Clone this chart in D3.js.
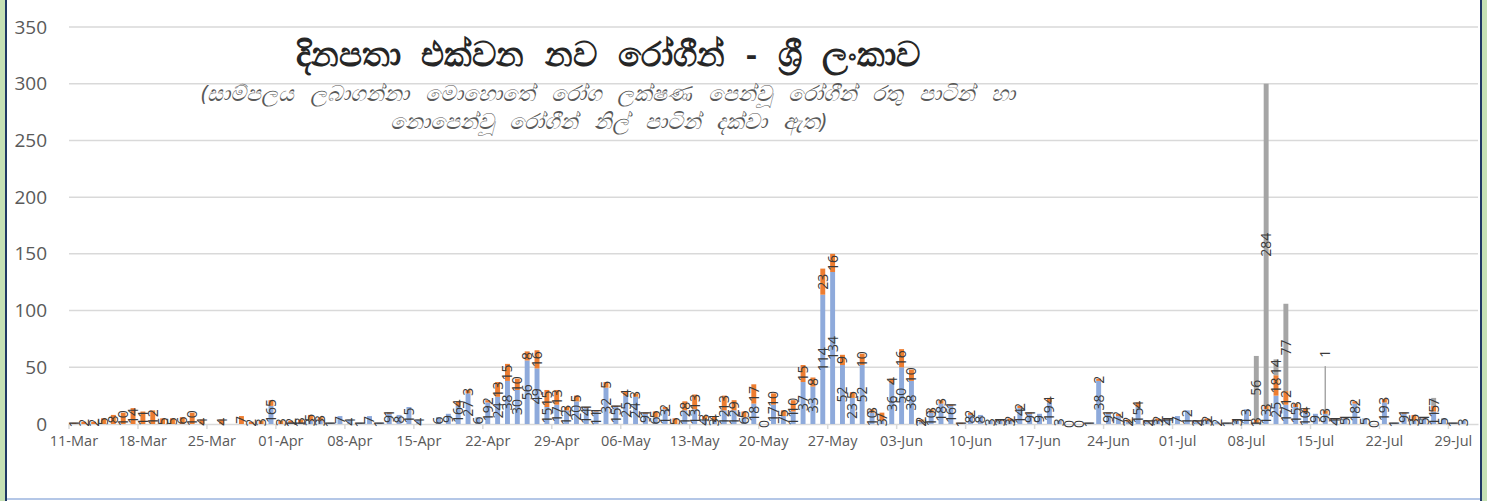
<!DOCTYPE html>
<html>
<head>
<meta charset="utf-8">
<script src="https://cdn.jsdelivr.net/npm/d3@7"></script>
<style>
  html, body { margin: 0; padding: 0; background: #fff; }
  svg { display: block; font-family: "Noto Sans", "Open Sans", sans-serif; }
</style>
</head>
<body>
<svg id="chart" width="1487" height="501"></svg>
<script>
// first and last day on the axis
const firstDay = '2020-03-11';
const lastDay = '2020-07-31';
const tickEvery = 7;

// patients without symptoms (blue), null = no bar / no label
const blueMar = [null, null, null, null, null, null, null, null, null, null, null, null, null, null, null, null, null, null, null, null, 16];
const blueApr = [null, 1, 1, 3, 3, 1, 7, 4, 1, 7, 1, 9, 8, 15, 4, null, 6, 9, 16, 27, 6, 19, 24, 38, 30, 56, 49, 15, 17, 12];
const blueMay = [20, 14, 11, 32, 15, 25, 24, 9, 6, 13, null, 12, 13, 4, 3, 12, 12, 6, 18, 0, 17, 7, 11, 37, 33, 114, 134, 52, 23, 52, 10];
const blueJun = [3, 36, 50, 38, 2, 10, 18, 16, null, 8, 8, 3, 3, 3, 14, 9, 9, 19, 3, 0, 0, 1, 38, 9, 7, 2, 15, 2, 3, 4];
const blueJul = [7, 12, 2, 3, 2, 1, 3, 13, 1, 13, 25, 17, 15, 10, 9, 9, 4, 5, 18, 5, 0, 19, 1, 9, 3, 5, 11, 5, 1, 3, null];

// patients with symptoms (orange)
const orangeMar = [1, 2, 2, 5, 8, 10, 14, 11, 12, 5, 5, 6, 10, 4, null, 4, null, 7, 2, 3, 5];
const orangeApr = [3, 2, 3, 5, 3, null, null, null, null, null, null, 1, null, null, null, null, null, null, 4, 3, null, 2, 13, 15, 10, 8, 16, 15, 13, 3];
const orangeMay = [5, 1, 1, 5, 1, 4, 3, 1, 5, 2, 5, 8, 13, 3, 4, 13, 9, 5, 17, null, 10, 5, 10, 15, 8, 23, 16, 9, 5, 10, 3];
const orangeJun = [7, 4, 16, 10, 2, 3, 3, 1, 1, 2, null, null, 1, 2, 2, 1, null, 4, null, null, null, null, 2, 1, 2, 2, 4, 1, 2, 1];
const orangeJul = [null, null, 1, 2, null, null, 1, null, 3, 3, 18, 12, 3, 4, null, 3, 1, 1, 2, null, null, 3, null, 1, 5, 1, 5, null, null, null, null];

// other (grey) - only in July
const grayJul = [null, null, null, null, null, null, null, null, 56, 284, 14, 77, null, null, null, 1, null, null, null, null, null, null, null, null, null, null, 7, null, null, null, null];
const grayBefore = blueMar.length + blueApr.length + blueMay.length + blueJun.length;

// labels that were dragged up in the original, with a leader line
const liftedLabels = [{ date: '2020-07-16', key: 'gray', to: 62 }];

const yTicks = [0, 50, 100, 150, 200, 250, 300, 350];

const titleText = 'දිනපතා එක්වන නව රෝගීන් - ශ්‍රී ලංකාව';
const subtitleLines = [
    '(සාම්පලය ලබාගන්නා මොහොතේ රෝග ලක්ෂණ පෙන්වූ රෝගීන් රතු පාටින් හා',
    'නොපෙන්වූ රෝගීන් නිල් පාටින් දක්වා ඇත)'
];

const colors = { blue: '#8eaadb', orange: '#ed7d31', gray: '#a5a5a5' };
const keys = ['blue', 'orange', 'gray'];

const parse = d3.timeParse('%Y-%m-%d');
const days = d3.timeDay.range(parse(firstDay), d3.timeDay.offset(parse(lastDay), 1));

const blue = [].concat(blueMar, blueApr, blueMay, blueJun, blueJul);
const orange = [].concat(orangeMar, orangeApr, orangeMay, orangeJun, orangeJul);

const rows = days.map((d, i) => ({
    date: d,
    blue: blue[i],
    orange: orange[i],
    gray: i >= grayBefore ? grayJul[i - grayBefore] : null
}));

const svg = d3.select('#chart');
const margin = { left: 69, right: 1478, top: 27, bottom: 424 };

// frame like the slide it was cut from
svg.append('rect').attr('x', 0).attr('y', 0).attr('width', 5).attr('height', 501).attr('fill', '#c5e0b4');
svg.append('rect').attr('x', 5).attr('y', 0).attr('width', 2).attr('height', 501).attr('fill', '#1f3864');
svg.append('rect').attr('x', 1480).attr('y', 0).attr('width', 2).attr('height', 501).attr('fill', '#1f3864');
svg.append('rect').attr('x', 1482).attr('y', 0).attr('width', 5).attr('height', 501).attr('fill', '#c5e0b4');
svg.append('rect').attr('x', 7).attr('y', 498).attr('width', 1473).attr('height', 2).attr('fill', '#b4c7e7');

const x = d3.scaleBand()
    .domain(days)
    .range([margin.left, margin.right])
    .paddingInner(0.5)
    .paddingOuter(0.25);

const y = d3.scaleLinear().domain([0, 350]).range([margin.bottom, margin.top]);

// gridlines
svg.append('g')
    .selectAll('line')
    .data(yTicks.slice(1))
    .enter()
    .append('line')
    .attr('x1', margin.left)
    .attr('x2', margin.right)
    .attr('y1', d => y(d))
    .attr('y2', d => y(d))
    .attr('stroke', '#d9d9d9')
    .attr('stroke-width', 1.5);

// y axis labels
const yAxis = svg.append('g')
    .attr('transform', `translate(${margin.left - 22},0)`)
    .call(d3.axisLeft(y).tickValues(yTicks).tickSize(0).tickPadding(0));
yAxis.select('.domain').remove();
yAxis.selectAll('text')
    .attr('fill', '#595959')
    .style('font-size', '19px')
    .style('font-family', '"Open Sans", sans-serif');

// x axis
const weekDays = days.filter((d, i) => i % tickEvery === 0);
const half = x.step() / 2;
const xAxis = svg.append('g')
    .attr('transform', `translate(0,${margin.bottom})`)
    .call(d3.axisBottom(x).tickValues(weekDays).tickFormat(d3.timeFormat('%d-%b')).tickSize(0).tickPadding(12));
xAxis.select('.domain').attr('stroke', '#d9d9d9').attr('stroke-width', 1.5);
xAxis.selectAll('.tick')
    .append('line')
    .attr('x1', -half).attr('x2', -half)
    .attr('y1', 0).attr('y2', 5)
    .attr('stroke', '#d9d9d9')
    .attr('stroke-width', 1.5);
xAxis.selectAll('text')
    .attr('fill', '#595959')
    .style('font-size', '14.5px')
    .style('font-family', '"Open Sans", sans-serif');

// stacked bars
const stack = d3.stack().keys(keys).value((d, k) => d[k] || 0);
const series = stack(rows);

const layers = svg.append('g')
    .selectAll('g')
    .data(series)
    .enter()
    .append('g')
    .attr('fill', s => colors[s.key]);

layers.selectAll('rect')
    .data(s => s.filter(p => p.data[s.key]))
    .enter()
    .append('rect')
    .attr('x', p => x(p.data.date))
    .attr('width', x.bandwidth())
    .attr('y', p => y(p[1]))
    .attr('height', p => y(p[0]) - y(p[1]));

// leader lines for labels moved up
const lifted = liftedLabels.map(l => {
    const i = rows.findIndex(r => d3.timeFormat('%Y-%m-%d')(r.date) === l.date);
    const s = series.find(s => s.key === l.key);
    return { i, key: l.key, to: l.to, top: s[i][1] };
});
svg.append('g')
    .selectAll('line')
    .data(lifted)
    .enter()
    .append('line')
    .attr('x1', d => x(days[d.i]) + x.bandwidth() / 2)
    .attr('x2', d => x(days[d.i]) + x.bandwidth() / 2)
    .attr('y1', d => y(d.to - 11))
    .attr('y2', d => y(d.top))
    .attr('stroke', '#a6a6a6')
    .attr('stroke-width', 1.5);

// value labels, rotated
const labelData = [];
series.forEach(s => {
    s.forEach((p, i) => {
        const v = p.data[s.key];
        if (v === null || v === undefined) return;
        const moved = lifted.find(l => l.i === i && l.key === s.key);
        labelData.push({
            v,
            cx: x(p.data.date) + x.bandwidth() / 2,
            cy: moved ? y(moved.to) : y((p[0] + p[1]) / 2)
        });
    });
});

svg.append('g')
    .selectAll('text')
    .data(labelData)
    .enter()
    .append('text')
    .attr('transform', d => `translate(${d.cx},${d.cy}) rotate(-90)`)
    .attr('text-anchor', 'middle')
    .attr('dy', '0.35em')
    .attr('fill', '#3a3a3a')
    .style('font-size', '14px')
    .style('font-family', '"Open Sans", sans-serif')
    .text(d => d.v);

// title
svg.append('text')
    .attr('x', 608)
    .attr('y', 66)
    .attr('text-anchor', 'middle')
    .attr('fill', '#262626')
    .style('font-size', '34px')
    .style('font-weight', '600')
    .style('word-spacing', '12px')
    .text(titleText);

svg.append('g')
    .selectAll('text')
    .data(subtitleLines)
    .enter()
    .append('text')
    .attr('x', 608)
    .attr('y', (d, i) => 101 + i * 28)
    .attr('text-anchor', 'middle')
    .attr('fill', '#595959')
    .style('font-size', '22px')
    .style('font-style', 'italic')
    .style('word-spacing', '10px')
    .text(d => d);
</script>
</body>
</html>
